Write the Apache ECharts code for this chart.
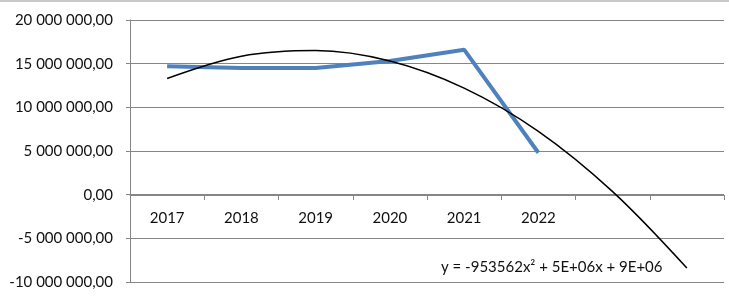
<!DOCTYPE html>
<html>
<head>
<meta charset="utf-8">
<script src="https://cdn.jsdelivr.net/npm/echarts@6/dist/echarts.min.js"></script>
<style>
  html, body { margin: 0; padding: 0; background: #fff; }
  #chart { width: 729px; height: 301px; }
</style>
</head>
<body>
<div id="chart"></div>
<script>
// anos (as duas ultimas posicoes vazias so servem para prolongar a tendencia)
var categories = ['2017', '2018', '2019', '2020', '2021', '2022', '', ''];
var valores = [14700000, 14500000, 14500000, 15300000, 16600000, 4800000];
// linha de tendencia polinomial, um ponto por categoria
var tendencia = [13300000, 15850000, 16500000, 15300000, 12200000, 7250000, 350000, -8400000];
var yTicks = { min: -10000000, max: 20000000, interval: 5000000 };
var equacao = 'y = -953562x\u00b2 + 5E+06x + 9E+06';

function formatNum(v) {
  var neg = v < 0;
  var s = Math.abs(Math.round(v)).toString().replace(/\B(?=(\d{3})+(?!\d))/g, ' ');
  return (neg ? '-' : '') + s + ',00';
}

var FONT = 'Lato';
var TXT = '#111';
var chart = echarts.init(document.getElementById('chart'));
chart.setOption({
  animation: false,
  textStyle: { fontFamily: FONT },
  grid: { left: 130, right: 5, top: 20, bottom: 19, containLabel: false, outerBoundsMode: 'none' },
  xAxis: {
    type: 'category',
    data: categories,
    boundaryGap: true,
    // eixo desenhado na linha do zero (282 - 195 = 87 px acima da base)
    offset: -87,
    axisLine: { onZero: false, lineStyle: { color: '#868686', width: 1 } },
    axisTick: { show: true, length: 5, interval: 0, lineStyle: { color: '#868686' } },
    axisLabel: { color: TXT, fontSize: 15, fontFamily: FONT, margin: 16, interval: 0 },
    splitLine: { show: false }
  },
  yAxis: {
    type: 'value',
    min: yTicks.min,
    max: yTicks.max,
    interval: yTicks.interval,
    axisLine: { show: true, lineStyle: { color: '#868686', width: 1 } },
    axisTick: { show: true, length: 4, lineStyle: { color: '#868686' } },
    axisLabel: { color: TXT, fontSize: 15, fontFamily: FONT, margin: 17, formatter: formatNum },
    splitLine: { lineStyle: { color: '#868686', width: 1 } }
  },
  series: [
    {
      type: 'line',
      data: valores,
      symbol: 'none',
      lineStyle: { color: '#4F81BD', width: 4 },
      z: 2
    },
    {
      type: 'line',
      data: tendencia,
      symbol: 'none',
      smooth: 0.35,
      smoothConstraint: false,
      lineStyle: { color: '#000', width: 1.5 },
      z: 3
    }
  ],
  graphic: [
    { type: 'rect', shape: { x: 0, y: 0, width: 729, height: 2 }, style: { fill: '#c8c8c8' } },
    {
      type: 'text', left: 441, top: 260,
      style: { text: equacao, font: '15px ' + FONT, fill: TXT }
    }
  ]
});
</script>
</body>
</html>
